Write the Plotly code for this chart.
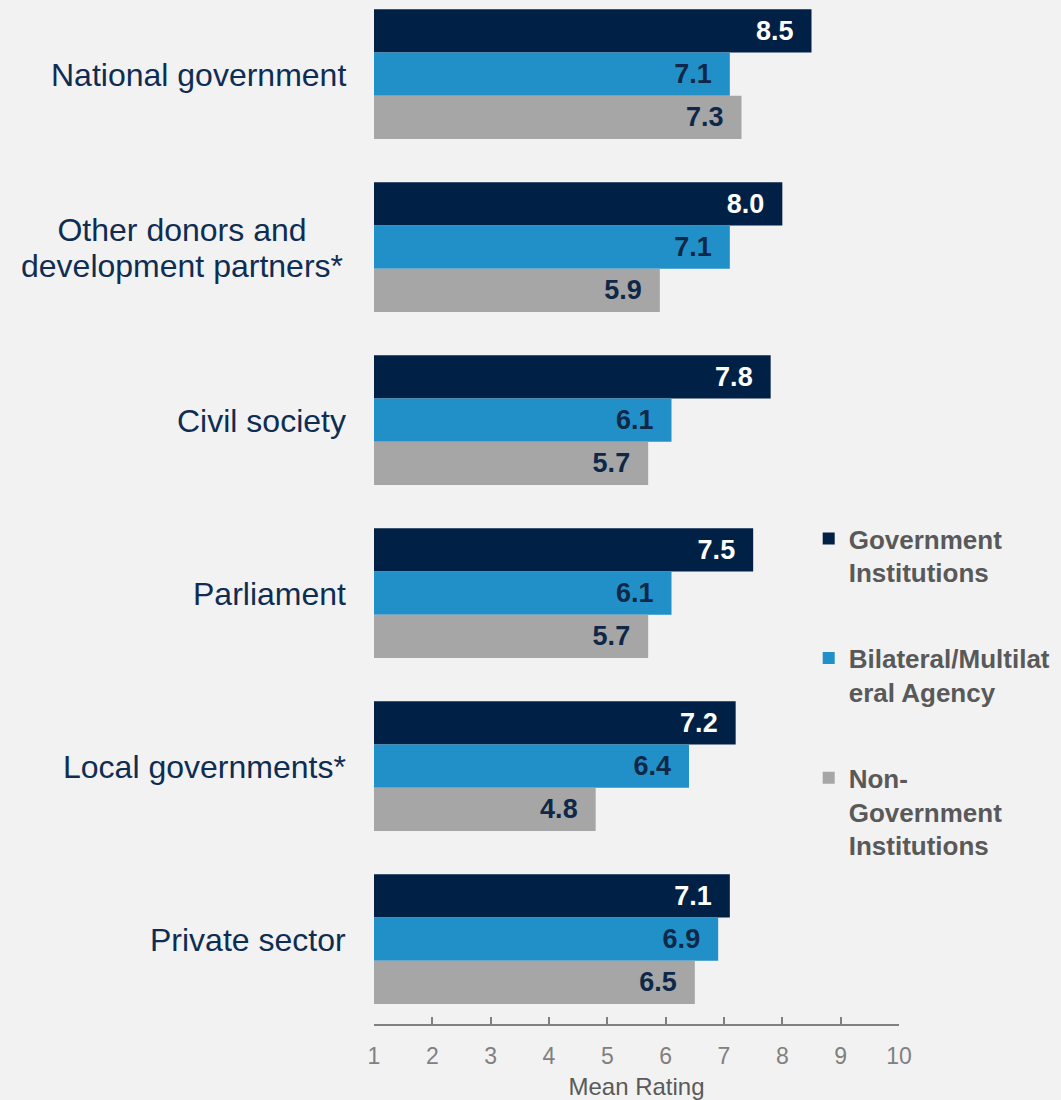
import plotly.graph_objects as go

categories = ["National government", "Other donors and<br>development partners*", "Civil society",
              "Parliament", "Local governments*", "Private sector"]
series_names = ["Government<br>Institutions", "Bilateral/Multilat<br>eral Agency", "Non-<br>Government<br>Institutions"]
gov_values = [8.5, 8.0, 7.8, 7.5, 7.2, 7.1]
bilateral_values = [7.1, 7.1, 6.1, 6.1, 6.4, 6.9]
nongov_values = [7.3, 5.9, 5.7, 5.7, 4.8, 6.5]
x_ticks = [1, 2, 3, 4, 5, 6, 7, 8, 9, 10]

colors = ["#002145", "#2190C8", "#A6A6A6"]
label_colors = ["#FFFFFF", "#0F2847", "#0F2847"]
FONT = "Liberation Sans, Arial, sans-serif"

fig = go.Figure()
for i, (name, vals) in enumerate(zip(series_names, [gov_values, bilateral_values, nongov_values])):
    fig.add_trace(go.Bar(
        y=categories, x=vals, orientation="h", name=name,
        marker=dict(color=colors[i], line=dict(width=0)),
        texttemplate="<b>%{x:.1f}</b>\u00a0\u00a0", textposition="inside",
        insidetextanchor="end",
        textfont=dict(family=FONT, size=27, color=label_colors[i]),
        legendgroup=f"g{i}", cliponaxis=True,
    ))

annotations = []
for cat in categories:
    lines = cat.split("<br>")
    n = len(lines)
    for k, line in enumerate(lines):
        ann = dict(
            text=line, xref="paper", yref="y", x=0, y=cat, xanchor="right",
            xshift=-26, yshift=((n - 1) / 2 - k) * 36 - 1, showarrow=False,
            font=dict(family=FONT, size=32, color="#0F2D52"),
        )
        if n > 1:
            ann["width"] = 328
            ann["align"] = "center"
        annotations.append(ann)

fig.update_layout(
    width=1061, height=1100,
    margin=dict(l=374, r=162, t=0, b=76),
    paper_bgcolor="#F2F2F2", plot_bgcolor="#F2F2F2",
    barmode="group", bargap=0.25, bargroupgap=0,
    font=dict(family=FONT),
    showlegend=True,
    legend=dict(
        x=0.828, y=0.497, xanchor="left", yanchor="top",
        font=dict(family=FONT, size=26, color="#595959", weight="bold"),
        tracegroupgap=49, valign="top", bgcolor="rgba(0,0,0,0)",
        itemwidth=30,
    ),
    annotations=annotations,
)
fig.update_yaxes(
    categoryorder="array", categoryarray=categories,
    range=[5.491, -0.428], showticklabels=False, showgrid=False,
    zeroline=False, showline=False, ticks="",
)
fig.update_xaxes(
    range=[1, 10], tickvals=x_ticks, showgrid=False, zeroline=False,
    showline=True, linecolor="#808080", linewidth=2,
    ticks="inside", ticklen=7, tickwidth=2, tickcolor="#808080",
    tickfont=dict(family=FONT, size=23, color="#808080"),
    ticklabelstandoff=10,
    title=dict(text="Mean Rating", font=dict(family=FONT, size=24, color="#5A5A5A"), standoff=16),
    automargin=False,
)

fig.write_html("out.html", config={"displayModeBar": False},
               post_script="document.body.style.margin='0';")
